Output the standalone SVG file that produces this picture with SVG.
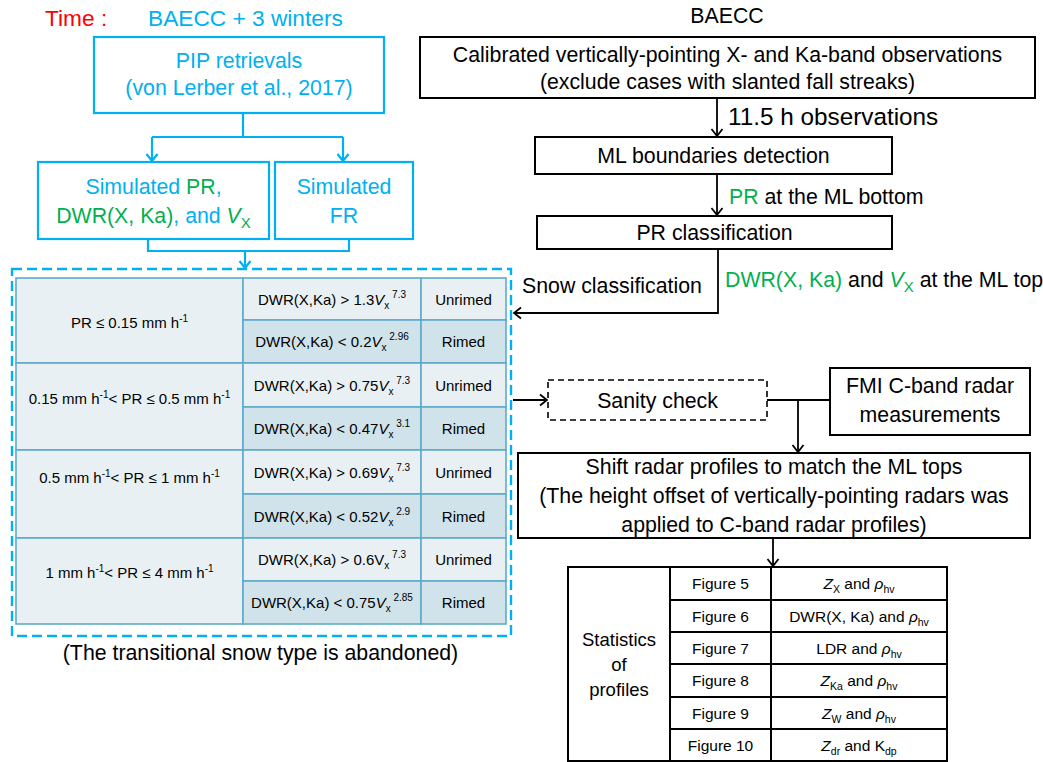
<svg xmlns="http://www.w3.org/2000/svg" width="1043" height="762" viewBox="0 0 1043 762">
<style>
text{font-family:"Liberation Sans",Arial,sans-serif;}
.t{font-size:21.3px;fill:#000;}
.c{fill:#00B0F0;}
.g{fill:#00B050;}
.ctr{text-anchor:middle;}
.bk{fill:#fff;stroke:#000;stroke-width:2;}
.cy{fill:#fff;stroke:#00B0F0;stroke-width:2.2;}
.ln{fill:none;stroke:#000;stroke-width:1.8;}
.lc{fill:none;stroke:#00B0F0;stroke-width:2.2;}
.tb{font-size:15px;fill:#000;text-anchor:middle;}
.rt{font-size:15.5px;fill:#000;text-anchor:middle;}
.c1{fill:#E9F0F4;stroke:#5FAAC8;stroke-width:1.6;}
.c2{fill:#D0E2EA;stroke:#5FAAC8;stroke-width:1.6;}
.cw{fill:#fff;stroke:#000;stroke-width:2;}
.it{font-style:italic;}
</style>
<defs>
<marker id="ab" markerUnits="userSpaceOnUse" markerWidth="14" markerHeight="14" viewBox="0 0 14 14" refX="12" refY="7" orient="auto">
<path d="M5,1.5 L12,7 L5,12.5" fill="none" stroke="#000" stroke-width="1.8"/>
</marker>
<marker id="ac" markerUnits="userSpaceOnUse" markerWidth="14" markerHeight="14" viewBox="0 0 14 14" refX="12" refY="7" orient="auto">
<path d="M5,1.5 L12,7 L5,12.5" fill="none" stroke="#00B0F0" stroke-width="2.2"/>
</marker>
</defs>
<rect width="1043" height="762" fill="#fff"/>

<g id="title-left">
<text x="45" y="26" style="font-size:22.7px" fill="#FF0000">Time :</text>
<text x="148" y="26" style="font-size:22.7px" class="c">BAECC + 3 winters</text>
</g>
<g id="title-right">
<text x="727" y="23" class="t ctr">BAECC</text>
</g>

<g id="connectors">
<path class="lc" d="M243,113 V137 M152,137 H343"/>
<path class="lc" d="M152,137 V161" marker-end="url(#ac)"/>
<path class="lc" d="M343,137 V161" marker-end="url(#ac)"/>
<path class="lc" d="M148,239 V251 H349 V239"/>
<path class="lc" d="M245,251 V268" marker-end="url(#ac)"/>
<path class="ln" d="M717,98 V136" marker-end="url(#ab)"/>
<path class="ln" d="M717,174 V215" marker-end="url(#ab)"/>
<path class="ln" d="M718,249 V313 H514" marker-end="url(#ab)"/>
<path class="ln" d="M513,400 H547" marker-end="url(#ab)"/>
<path class="ln" d="M767,400 H830"/>
<path class="ln" d="M798,400 V452" marker-end="url(#ab)"/>
<path class="ln" d="M773,538 V566" marker-end="url(#ab)"/>
</g>

<g id="pip">
<rect class="cy" x="94" y="37" width="290" height="76"/>
<text x="239" y="68" class="t c ctr">PIP retrievals</text>
<text x="239" y="95" class="t c ctr">(von Lerber et al., 2017)</text>
</g>
<g id="sim-pr">
<rect class="cy" x="38" y="162" width="231" height="77"/>
<text x="153.5" y="194" class="t c ctr">Simulated <tspan class="g">PR</tspan>,</text>
<text x="153.5" y="223" class="t c ctr"><tspan class="g">DWR(X, Ka)</tspan>, and <tspan class="g it">V</tspan><tspan class="g" dy="5" style="font-size:15px">X</tspan></text>
</g>
<g id="sim-fr">
<rect class="cy" x="275" y="162" width="138" height="77"/>
<text x="344" y="194" class="t c ctr">Simulated</text>
<text x="344" y="223" class="t c ctr">FR</text>
</g>

<g id="snow-table">
<rect x="12" y="269" width="499" height="367" fill="none" stroke="#00B0F0" stroke-width="2.4" stroke-dasharray="10,5"/>
<rect class="c1" x="16" y="278" width="227" height="85"/>
<rect class="c1" x="16" y="363" width="227" height="87"/>
<rect class="c1" x="16" y="450" width="227" height="88"/>
<rect class="c1" x="16" y="538" width="227" height="86"/>
<rect class="c1" x="243" y="278" width="178" height="42"/><rect class="c1" x="421" y="278" width="85" height="42"/>
<rect class="c2" x="243" y="320" width="178" height="43"/><rect class="c2" x="421" y="320" width="85" height="43"/>
<rect class="c1" x="243" y="363" width="178" height="44"/><rect class="c1" x="421" y="363" width="85" height="44"/>
<rect class="c2" x="243" y="407" width="178" height="43"/><rect class="c2" x="421" y="407" width="85" height="43"/>
<rect class="c1" x="243" y="450" width="178" height="44"/><rect class="c1" x="421" y="450" width="85" height="44"/>
<rect class="c2" x="243" y="494" width="178" height="44"/><rect class="c2" x="421" y="494" width="85" height="44"/>
<rect class="c1" x="243" y="538" width="178" height="43"/><rect class="c1" x="421" y="538" width="85" height="43"/>
<rect class="c2" x="243" y="581" width="178" height="43"/><rect class="c2" x="421" y="581" width="85" height="43"/>

<text x="129.5" y="327.5" class="tb">PR ≤ 0.15 mm h<tspan dy="-6" style="font-size:10px">-1</tspan></text>
<text x="129.5" y="403.5" class="tb">0.15 mm h<tspan dy="-6" style="font-size:10px">-1</tspan><tspan dy="6">&lt; PR ≤ 0.5 mm h</tspan><tspan dy="-6" style="font-size:10px">-1</tspan></text>
<text x="129.5" y="482.5" class="tb">0.5 mm h<tspan dy="-6" style="font-size:10px">-1</tspan><tspan dy="6">&lt; PR ≤ 1 mm h</tspan><tspan dy="-6" style="font-size:10px">-1</tspan></text>
<text x="129.5" y="577.5" class="tb">1 mm h<tspan dy="-6" style="font-size:10px">-1</tspan><tspan dy="6">&lt; PR ≤ 4 mm h</tspan><tspan dy="-6" style="font-size:10px">-1</tspan></text>

<text x="332" y="304.5" class="tb">DWR(X,Ka) &gt; 1.3<tspan class="it">V</tspan><tspan dy="4" style="font-size:10px">x</tspan><tspan dy="-11" style="font-size:10px"> 7.3</tspan></text>
<text x="332" y="347" class="tb">DWR(X,Ka) &lt; 0.2<tspan class="it">V</tspan><tspan dy="4" style="font-size:10px">x</tspan><tspan dy="-11" style="font-size:10px"> 2.96</tspan></text>
<text x="332" y="390.5" class="tb">DWR(X,Ka) &gt; 0.75<tspan class="it">V</tspan><tspan dy="4" style="font-size:10px">x</tspan><tspan dy="-11" style="font-size:10px"> 7.3</tspan></text>
<text x="332" y="434" class="tb">DWR(X,Ka) &lt; 0.47<tspan class="it">V</tspan><tspan dy="4" style="font-size:10px">x</tspan><tspan dy="-11" style="font-size:10px"> 3.1</tspan></text>
<text x="332" y="477.5" class="tb">DWR(X,Ka) &gt; 0.69<tspan class="it">V</tspan><tspan dy="4" style="font-size:10px">x</tspan><tspan dy="-11" style="font-size:10px"> 7.3</tspan></text>
<text x="332" y="521.5" class="tb">DWR(X,Ka) &lt; 0.52<tspan class="it">V</tspan><tspan dy="4" style="font-size:10px">x</tspan><tspan dy="-11" style="font-size:10px"> 2.9</tspan></text>
<text x="332" y="565" class="tb">DWR(X,Ka) &gt; 0.6V<tspan dy="4" style="font-size:10px">x</tspan><tspan dy="-11" style="font-size:10px"> 7.3</tspan></text>
<text x="332" y="608" class="tb">DWR(X,Ka) &lt; 0.75<tspan class="it">V</tspan><tspan dy="4" style="font-size:10px">x</tspan><tspan dy="-11" style="font-size:10px"> 2.85</tspan></text>

<text x="463.5" y="304.5" class="tb">Unrimed</text>
<text x="463.5" y="347" class="tb">Rimed</text>
<text x="463.5" y="390.5" class="tb">Unrimed</text>
<text x="463.5" y="434" class="tb">Rimed</text>
<text x="463.5" y="477.5" class="tb">Unrimed</text>
<text x="463.5" y="521.5" class="tb">Rimed</text>
<text x="463.5" y="565" class="tb">Unrimed</text>
<text x="463.5" y="608" class="tb">Rimed</text>
<text x="260.5" y="660" class="t ctr">(The transitional snow type is abandoned)</text>
</g>

<g id="calibrated">
<rect class="bk" x="420" y="37" width="615" height="61"/>
<text x="727.5" y="62" class="t ctr">Calibrated vertically-pointing X- and Ka-band observations</text>
<text x="727.5" y="89" class="t ctr">(exclude cases with slanted fall streaks)</text>
</g>
<g id="label-obs">
<text x="728" y="125" style="font-size:24.3px" fill="#000">11.5 h observations</text>
</g>
<g id="ml-detect">
<rect class="bk" x="535" y="137" width="357" height="37"/>
<text x="713.5" y="163" class="t ctr">ML boundaries detection</text>
</g>
<g id="label-pr">
<text x="729" y="204" class="t"><tspan class="g">PR</tspan> at the ML bottom</text>
</g>
<g id="pr-class">
<rect class="bk" x="537" y="216" width="355" height="33"/>
<text x="714.5" y="240" class="t ctr">PR classification</text>
</g>
<g id="label-snow">
<text x="522" y="293" class="t">Snow classification</text>
<text x="725" y="287" class="t"><tspan class="g">DWR(X, Ka)</tspan> and <tspan class="g it">V</tspan><tspan class="g" dy="5" style="font-size:15px">X</tspan><tspan dy="-5"> at the ML top</tspan></text>
</g>
<g id="sanity">
<rect x="548" y="380" width="219" height="40" fill="#fff" stroke="#000" stroke-width="1.6" stroke-dasharray="6,4"/>
<text x="657.5" y="408" class="t ctr">Sanity check</text>
</g>
<g id="fmi">
<rect class="bk" x="830" y="368" width="200" height="67"/>
<text x="930" y="393" class="t ctr">FMI C-band radar</text>
<text x="930" y="422" class="t ctr">measurements</text>
</g>
<g id="shift">
<rect class="bk" x="518" y="453" width="512" height="85"/>
<text x="774" y="474" class="t ctr">Shift radar profiles to match the ML tops</text>
<text x="774" y="503" class="t ctr">(The height offset of vertically-pointing radars was</text>
<text x="774" y="532" class="t ctr">applied to C-band radar profiles)</text>
</g>

<g id="stats-table">
<rect class="cw" x="568" y="567" width="102" height="194"/>
<rect class="cw" x="670" y="567" width="101" height="33"/><rect class="cw" x="771" y="567" width="176" height="33"/>
<rect class="cw" x="670" y="600" width="101" height="32"/><rect class="cw" x="771" y="600" width="176" height="32"/>
<rect class="cw" x="670" y="632" width="101" height="32"/><rect class="cw" x="771" y="632" width="176" height="32"/>
<rect class="cw" x="670" y="664" width="101" height="33"/><rect class="cw" x="771" y="664" width="176" height="33"/>
<rect class="cw" x="670" y="697" width="101" height="32"/><rect class="cw" x="771" y="697" width="176" height="32"/>
<rect class="cw" x="670" y="729" width="101" height="32"/><rect class="cw" x="771" y="729" width="176" height="32"/>
<text x="619" y="646" style="font-size:18.5px" class="ctr">Statistics</text>
<text x="619" y="671" style="font-size:18.5px" class="ctr">of</text>
<text x="619" y="696" style="font-size:18.5px" class="ctr">profiles</text>
<text x="720.5" y="589" class="rt">Figure 5</text>
<text x="720.5" y="621.5" class="rt">Figure 6</text>
<text x="720.5" y="653.5" class="rt">Figure 7</text>
<text x="720.5" y="686" class="rt">Figure 8</text>
<text x="720.5" y="718.5" class="rt">Figure 9</text>
<text x="720.5" y="750.5" class="rt">Figure 10</text>
<text x="859" y="589" class="rt"><tspan class="it">Z</tspan><tspan dy="4" style="font-size:10.5px">X</tspan><tspan dy="-4"> and </tspan><tspan class="it">ρ</tspan><tspan dy="4" style="font-size:10.5px">hv</tspan></text>
<text x="859" y="621.5" class="rt">DWR(X, Ka) and <tspan class="it">ρ</tspan><tspan dy="4" style="font-size:10.5px">hv</tspan></text>
<text x="859" y="653.5" class="rt">LDR and <tspan class="it">ρ</tspan><tspan dy="4" style="font-size:10.5px">hv</tspan></text>
<text x="859" y="686" class="rt"><tspan class="it">Z</tspan><tspan dy="4" style="font-size:10.5px">Ka</tspan><tspan dy="-4"> and </tspan><tspan class="it">ρ</tspan><tspan dy="4" style="font-size:10.5px">hv</tspan></text>
<text x="859" y="718.5" class="rt"><tspan class="it">Z</tspan><tspan dy="4" style="font-size:10.5px">W</tspan><tspan dy="-4"> and </tspan><tspan class="it">ρ</tspan><tspan dy="4" style="font-size:10.5px">hv</tspan></text>
<text x="859" y="750.5" class="rt"><tspan class="it">Z</tspan><tspan dy="4" style="font-size:10.5px">dr</tspan><tspan dy="-4"> and K</tspan><tspan dy="4" style="font-size:10.5px">dp</tspan></text>
</g>
</svg>
